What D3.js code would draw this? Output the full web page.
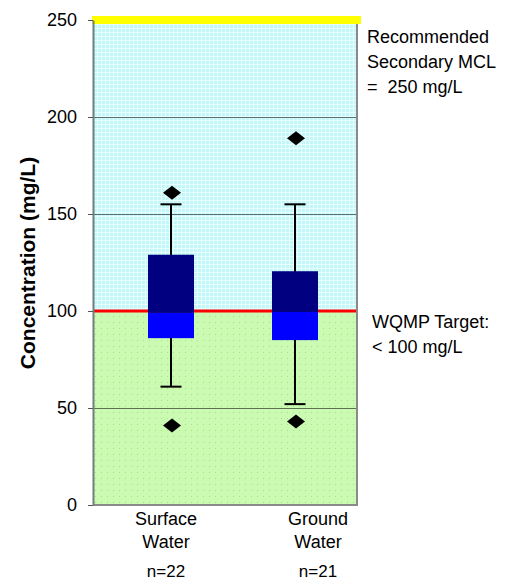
<!DOCTYPE html>
<html>
<head>
<meta charset="utf-8">
<script src="https://cdn.jsdelivr.net/npm/d3@7"></script>
<style>
  body { margin: 0; background: #fff; }
  svg { font-family: "Liberation Sans", Arial, sans-serif; }
  text { white-space: pre; }
</style>
</head>
<body>
<svg width="515" height="583"></svg>
<script>
// chart values
var categories = ["Surface Water", "Ground Water"];
var labelLines = [["Surface", "Water", "n=22"], ["Ground", "Water", "n=21"]];
var whiskerLow = [61, 52];
var q1 = [86, 85];
var median = [99, 99.5];
var q3 = [129, 120.5];
var whiskerHigh = [155, 155];
var outlierLow = [41, 43];
var outlierHigh = [161, 189];
var yTicks = [0, 50, 100, 150, 200, 250];
var gridValues = [50, 150, 200];
var secondaryMCL = 250;
var wqmpTarget = 100;
var mclNote = ["Recommended", "Secondary MCL", "=  250 mg/L"];
var targetNote = ["WQMP Target:", "< 100 mg/L"];

var svg = d3.select("svg"),
    margin = {top: 20, right: 159, bottom: 78, left: 93},
    w = 515 - margin.left - margin.right,
    h = 583 - margin.top - margin.bottom,
    g = svg.append("g").attr("transform", "translate(" + margin.left + "," + margin.top + ")");

var y = d3.scaleLinear().domain([0, 250]).range([h, 0]);
var x = d3.scalePoint().domain(categories).range([78, 202]);
var xLabel = d3.scalePoint().domain(categories).range([73, 225]);

// background patterns
var defs = svg.append("defs");
var pc = defs.append("pattern").attr("id", "cyan").attr("width", 4).attr("height", 4)
    .attr("patternUnits", "userSpaceOnUse");
pc.append("rect").attr("width", 4).attr("height", 4).attr("fill", "#c2f6f8");
pc.append("rect").attr("width", 4).attr("height", 1).attr("fill", "#e8ffff");
pc.append("rect").attr("width", 1).attr("height", 4).attr("fill", "#e8ffff");

var pg = defs.append("pattern").attr("id", "green").attr("width", 6).attr("height", 6)
    .attr("patternUnits", "userSpaceOnUse");
pg.append("rect").attr("width", 6).attr("height", 6).attr("fill", "#cbfbb2");
pg.append("rect").attr("x", 2).attr("y", 2).attr("width", 1).attr("height", 1).attr("fill", "#9ee57a");

g.append("rect")
    .attr("x", 0).attr("width", w)
    .attr("y", y(250)).attr("height", y(wqmpTarget) - y(250))
    .attr("fill", "url(#cyan)");
g.append("rect")
    .attr("x", 0).attr("width", w)
    .attr("y", y(wqmpTarget)).attr("height", y(0) - y(wqmpTarget))
    .attr("fill", "url(#green)");

// gridlines
g.selectAll(".grid").data(gridValues).enter().append("line")
    .attr("x1", 0).attr("x2", w)
    .attr("y1", function(d) { return Math.round(y(d)) + 0.5; })
    .attr("y2", function(d) { return Math.round(y(d)) + 0.5; })
    .attr("stroke", "#000").attr("stroke-opacity", 0.55);

// plot border right / bottom
g.append("line").attr("x1", w + 1).attr("x2", w + 1).attr("y1", 0).attr("y2", h)
    .attr("stroke", "#8a8a8a").attr("stroke-width", 2);
g.append("line").attr("x1", 0).attr("x2", w + 2).attr("y1", h).attr("y2", h)
    .attr("stroke", "#8a8a8a").attr("stroke-width", 2);

// target line
g.append("line").attr("x1", 0).attr("x2", w)
    .attr("y1", y(wqmpTarget)).attr("y2", y(wqmpTarget))
    .attr("stroke", "#ff0000").attr("stroke-width", 3);

// whiskers
var idx = d3.range(categories.length);
g.selectAll(".whisker").data(idx).enter().append("line")
    .attr("x1", function(i) { return x(categories[i]); })
    .attr("x2", function(i) { return x(categories[i]); })
    .attr("y1", function(i) { return y(whiskerLow[i]); })
    .attr("y2", function(i) { return y(whiskerHigh[i]); })
    .attr("stroke", "#000").attr("stroke-width", 2);

[whiskerLow, whiskerHigh].forEach(function(arr) {
  g.selectAll(null).data(idx).enter().append("line")
      .attr("x1", function(i) { return x(categories[i]) - 10.5; })
      .attr("x2", function(i) { return x(categories[i]) + 10.5; })
      .attr("y1", function(i) { return y(arr[i]); })
      .attr("y2", function(i) { return y(arr[i]); })
      .attr("stroke", "#000").attr("stroke-width", 2);
});

// boxes
var bw = 46;
g.selectAll(".upper").data(idx).enter().append("rect")
    .attr("x", function(i) { return x(categories[i]) - bw / 2; })
    .attr("width", bw)
    .attr("y", function(i) { return y(q3[i]); })
    .attr("height", function(i) { return y(median[i]) - y(q3[i]); })
    .attr("fill", "#000080");
g.selectAll(".lower").data(idx).enter().append("rect")
    .attr("x", function(i) { return x(categories[i]) - bw / 2; })
    .attr("width", bw)
    .attr("y", function(i) { return y(median[i]); })
    .attr("height", function(i) { return y(q1[i]) - y(median[i]); })
    .attr("fill", "#0000ff");

// outliers
function diamond(cx, cy) {
  return "M" + cx + "," + (cy - 7) + "L" + (cx + 9) + "," + cy + "L" + cx + "," + (cy + 7) + "L" + (cx - 9) + "," + cy + "Z";
}
[outlierLow, outlierHigh].forEach(function(arr) {
  g.selectAll(null).data(idx).enter().append("path")
      .attr("d", function(i) { return diamond(x(categories[i]) + 1, y(arr[i])); })
      .attr("fill", "#000");
});

// MCL line
g.append("line").attr("x1", -1).attr("x2", w + 5)
    .attr("y1", y(secondaryMCL)).attr("y2", y(secondaryMCL))
    .attr("stroke", "#ffff00").attr("stroke-width", 8);

// y axis
var yAxis = g.append("g")
    .call(d3.axisLeft(y).tickValues(yTicks).tickSize(5).tickSizeOuter(0).tickPadding(11));
yAxis.select(".domain").attr("stroke", "#6f7f7f").attr("stroke-width", 2);
yAxis.selectAll(".tick line").attr("stroke", "#555");
yAxis.selectAll(".tick text")
    .attr("fill", "#000")
    .style("font-size", "18px")
    .style("font-family", "'Liberation Sans', Arial, sans-serif");

// y title
svg.append("text")
    .attr("transform", "rotate(-90)")
    .attr("x", -263)
    .attr("y", 35)
    .attr("text-anchor", "middle")
    .style("font-size", "21px")
    .style("font-weight", "bold")
    .text("Concentration (mg/L)");

// category labels
var lineY = [h + 20, h + 43, h + 72];
categories.forEach(function(c, i) {
  labelLines[i].forEach(function(t, j) {
    g.append("text")
        .attr("x", xLabel(c))
        .attr("y", lineY[j])
        .attr("text-anchor", "middle")
        .style("font-size", j == 2 ? "17px" : "18px")
        .text(t);
  });
});

// notes on the right
mclNote.forEach(function(t, j) {
  svg.append("text").attr("x", 367).attr("y", 43 + j * 25)
      .style("font-size", "18px").text(t);
});
targetNote.forEach(function(t, j) {
  svg.append("text").attr("x", 372).attr("y", 328 + j * 24.5)
      .style("font-size", "18px").text(t);
});
</script>
</body>
</html>
